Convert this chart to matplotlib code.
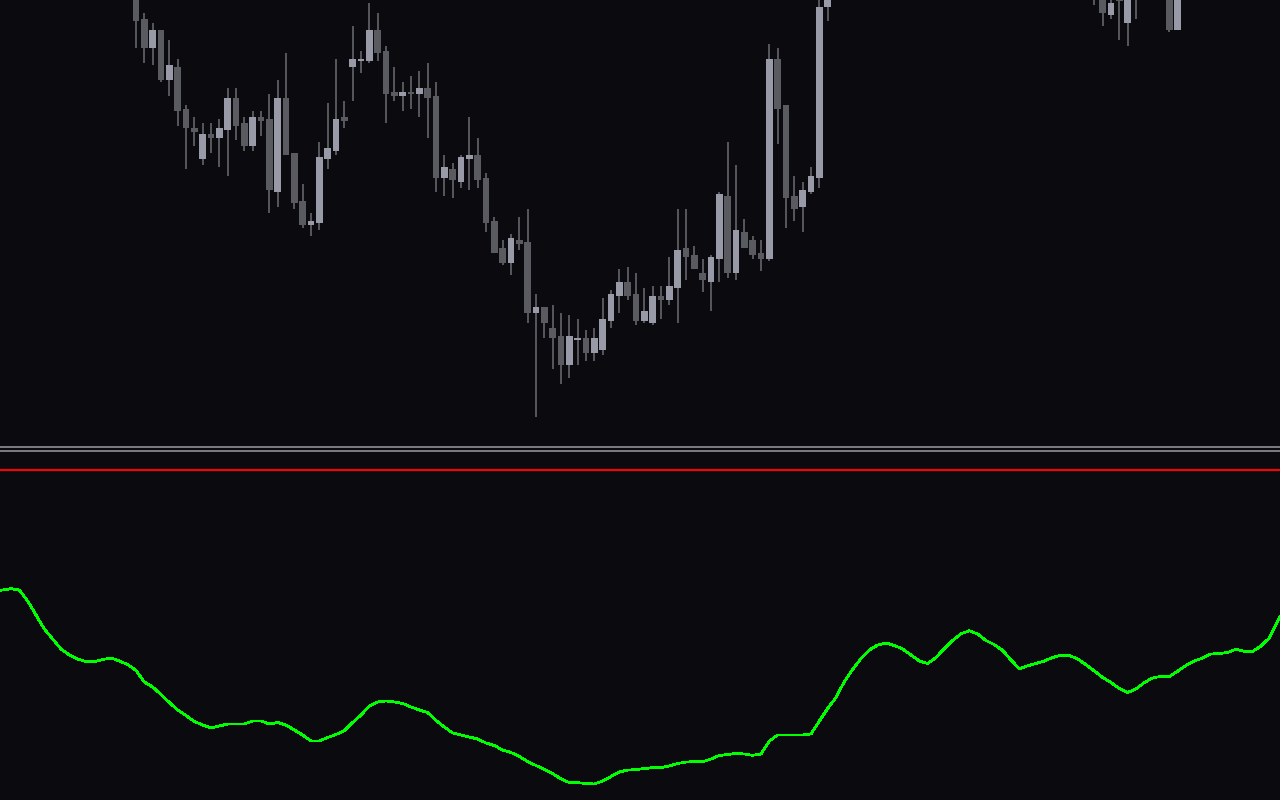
import matplotlib
matplotlib.use("Agg")
import matplotlib.pyplot as plt

# candle data (index, open, high, low, close)
idx = list(range(0, 84)) + [115, 116, 117, 118, 119, 120, 124, 125]
opens = [508, 481, 452, 470, 420, 433, 391, 372, 341, 366, 362, 370, 402, 377, 354, 383, 381, 308, 402, 347,
         299, 275, 277, 341, 349, 383, 433, 439, 439, 470, 449, 408, 404, 408, 406, 412, 404, 322, 331, 318,
         341, 345, 322, 279, 252, 237, 260, 258, 187, 193, 172, 164, 135, 160, 162, 147, 150, 179, 204, 218,
         206, 179, 177, 204, 200, 212, 252, 245, 227, 218, 241, 304, 227, 268, 260, 247, 241, 441, 395, 304,
         293, 308, 322, 493,
         530, 510, 485, 505, 477, 530, 520, 470]
highs = [518, 487, 477, 470, 460, 441, 395, 383, 377, 377, 381, 412, 412, 383, 389, 389, 406, 420, 447, 347,
         316, 287, 358, 397, 441, 399, 474, 449, 497, 487, 454, 433, 418, 424, 429, 437, 418, 345, 337, 345,
         383, 362, 327, 283, 260, 266, 283, 291, 206, 193, 195, 187, 185, 181, 170, 172, 202, 210, 231, 233,
         227, 212, 214, 214, 243, 291, 291, 254, 241, 245, 308, 358, 335, 281, 264, 260, 456, 452, 395, 324,
         318, 333, 505, 525,
         540, 520, 505, 515, 525, 540, 530, 530]
lows = [452, 437, 435, 418, 404, 374, 331, 354, 335, 347, 333, 324, 360, 349, 349, 364, 287, 293, 345, 291,
        272, 264, 270, 331, 345, 372, 399, 427, 437, 439, 377, 399, 389, 391, 383, 362, 308, 304, 302, 312,
        310, 312, 268, 247, 235, 225, 250, 177, 83, 162, 131, 116, 122, 135, 139, 139, 145, 172, 187, 200,
        175, 177, 175, 181, 195, 177, 220, 231, 208, 189, 218, 222, 220, 252, 241, 229, 239, 356, 272, 279,
        268, 306, 312, 479,
        495, 474, 481, 460, 454, 481, 468, 470]
closes = [479, 452, 470, 420, 435, 389, 372, 368, 366, 362, 372, 402, 374, 354, 383, 379, 310, 402, 345, 297,
          275, 279, 343, 352, 381, 379, 441, 441, 470, 447, 406, 404, 408, 406, 412, 402, 322, 333, 320, 343,
          345, 320, 277, 247, 237, 262, 256, 187, 193, 177, 162, 135, 164, 162, 147, 162, 181, 206, 218, 204,
          179, 189, 204, 200, 214, 250, 243, 231, 220, 243, 306, 227, 270, 252, 245, 241, 441, 391, 302, 291,
          310, 324, 493, 515,
          510, 487, 497, 499, 515, 505, 470, 520]

# oscillator in the lower window, one value per bar
osc_idx = list(range(-17, 139))
osc = [209, 210, 211.3, 210, 199, 185, 171, 161, 151, 145, 141, 138.3, 138.3, 140.5, 142, 139, 135.5,
       129.5, 118, 113, 105.5, 97.5, 90, 84.5, 78.5, 75, 72, 74, 76, 76, 76, 79, 79, 76, 77.5, 75, 70,
       65, 59, 59, 62.5, 65.5, 69.5, 77.5, 85, 94, 98, 99, 98, 96.5, 93, 90, 87.5, 79.5, 73, 67, 65, 63,
       61, 57, 54.5, 50, 47.5, 43.5, 38.5, 34.5, 30.5, 26.5, 21, 17.5, 17.3, 16.5, 16, 19, 23.5, 28, 30,
       30.3, 31.5, 32.3, 32.3, 34, 36.5, 38, 38.3, 38.3, 41, 44.5, 45.5, 46.5, 46, 44.7, 46, 59, 65, 65,
       65, 65, 66, 79, 91.5, 102.5, 118.5, 130.5, 141.5, 150, 155, 157, 154.5, 151, 145, 139, 136.5,
       142.5, 151.5, 159.5, 166.2, 169.2, 166, 159.5, 155.3, 149.5, 140, 131.2, 134.2, 136.5, 139, 142.5,
       144.7, 144.5, 141, 135.3, 129, 122.5, 117.5, 111.5, 107.5, 111, 117.5, 122, 123.7, 123.5, 128.8,
       134.5, 139, 142, 146, 146.5, 147.5, 150.8, 148.7, 148.5, 154, 162, 179, 194]
level = 330

bg = '#0a0a0f'
up_col = '#989aa7'
dn_col = '#5a5b61'
wick_col = '#55565c'
sep_col = '#8a8a94'

fig = plt.figure(figsize=(12.8, 8), dpi=100, facecolor=bg)

ax = fig.add_axes([0, 353 / 800, 1, 447 / 800])
ax2 = fig.add_axes([0, 0, 1, 349 / 800])

for a in (ax, ax2):
    a.set_facecolor(bg)
    a.set_xlim(-16.32, 137.28)
    a.set_xticks([])
    a.set_yticks([])
    for s in a.spines.values():
        s.set_visible(False)

ax.set_ylim(53, 500)
ax2.set_ylim(0, 349)

ax.spines['bottom'].set_visible(True)
ax.spines['bottom'].set_color(sep_col)
ax.spines['bottom'].set_linewidth(1.25)
ax2.spines['top'].set_visible(True)
ax2.spines['top'].set_color(sep_col)
ax2.spines['top'].set_linewidth(1.25)

# candles
ax.vlines(idx, lows, highs, color=wick_col, linewidth=1.4, zorder=2, antialiased=False)
bottoms = [min(o, c) for o, c in zip(opens, closes)]
heights = [max(abs(c - o), 1.5) for o, c in zip(opens, closes)]
colors = [up_col if c > o else dn_col for o, c in zip(opens, closes)]
ax.bar(idx, heights, bottom=bottoms, width=0.78, color=colors, linewidth=0, zorder=3, antialiased=False)

# lower window
ax2.axhline(level, color='#ff0000', linewidth=1.5)
ax2.plot(osc_idx, osc, color='#00ff00', linewidth=1.25, antialiased=False)

fig.savefig('out.png', dpi=100, facecolor=bg)
